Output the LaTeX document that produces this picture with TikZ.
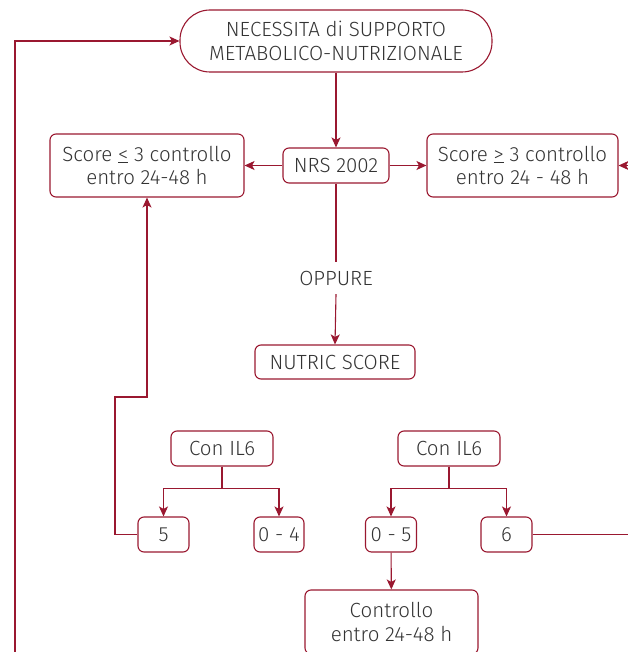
\documentclass[tikz,border=0pt]{standalone}
\usepackage{fontspec}
\setmainfont{Fira Sans Light}
\usetikzlibrary{arrows.meta}
\definecolor{lc}{HTML}{9A1830}
\definecolor{tc}{HTML}{333333}
\begin{document}
\begin{tikzpicture}[x=1pt,y=-1pt,
  box/.style={draw=lc, line width=1.1pt, rounded corners=6pt, text=tc,
    font=\fontsize{20.5}{23.5}\selectfont, align=center, inner sep=0pt},
  conn/.style={draw=lc, line width=1.1pt},
  arr/.style={conn, -{Stealth[length=10pt,width=9pt,inset=2.5pt]}}]
\useasboundingbox (0,0) rectangle (627,652);
\node[box, minimum width=312, minimum height=62, rounded corners=30pt] (top) at (336,41) {NECESSITA di SUPPORTO\\METABOLICO-NUTRIZIONALE};
\node[box, minimum width=106, minimum height=35] (nrs) at (336,165.5) {NRS 2002};
\node[box, minimum width=194, minimum height=63] (left) at (147,165.5) {Score \underline{<} 3 controllo\\entro 24-48 h};
\node[box, minimum width=191, minimum height=63] (right) at (522.5,165.5) {Score \underline{>} 3 controllo\\entro 24 - 48 h};
\node[text=tc, font=\fontsize{20.5}{23.5}\selectfont, minimum height=32, inner sep=0pt] (opp) at (336,278) {OPPURE};
\node[box, minimum width=160, minimum height=34] (nutric) at (335,362) {NUTRIC SCORE};
\node[box, minimum width=102, minimum height=35] (con1) at (222,448.5) {Con IL6};
\node[box, minimum width=102, minimum height=35] (con2) at (449,448.5) {Con IL6};
\node[box, minimum width=51, minimum height=35] (b5) at (163.5,534.5) {5};
\node[box, minimum width=50, minimum height=35] (b04) at (279,534.5) {0 - 4};
\node[box, minimum width=51, minimum height=35] (b05) at (391,534.5) {0 - 5};
\node[box, minimum width=51, minimum height=35] (b6) at (506.5,534.5) {6};
\node[box, minimum width=173, minimum height=64] (ctrl) at (391.5,622) {Controllo\\entro 24-48 h};
\coordinate (c1) at (115,397);
\coordinate (c2) at (680,534.5);
\coordinate (c3) at (15,700);
\draw[arr] (top) -- (nrs);
\draw[arr] (nrs) -- (left);
\draw[arr] (nrs) -- (right);
\draw[conn] (nrs.south) -- (opp.north);
\draw[arr] (opp.south) -- (nutric.north);
\draw[arr] (b5.west) -| (c1) -| (left.south);
\draw[arr] (con1.south) -- ++(0,22) -| (b5.north);
\draw[arr] (con1.south) -- ++(0,22) -| (b04.north);
\draw[arr] (con2.south) -- ++(0,22) -| (b05.north);
\draw[arr] (con2.south) -- ++(0,22) -| (b6.north);
\draw[arr] (b05) -- (ctrl);
\draw[arr] (b6.east) -- (c2) |- (right.east);
\draw[arr] (c3) |- (top.west);
\end{tikzpicture}
\end{document}
